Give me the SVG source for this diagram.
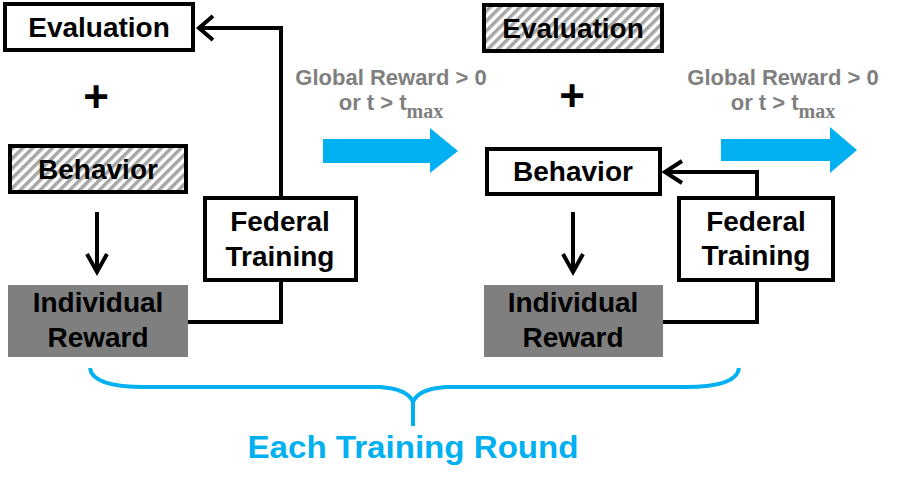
<svg xmlns="http://www.w3.org/2000/svg" width="903" height="488" viewBox="0 0 903 488">
<defs>
<pattern id="hatch" patternUnits="userSpaceOnUse" width="7" height="7" patternTransform="rotate(45)">
<rect width="7" height="7" fill="#ffffff"/>
<rect width="3.5" height="7" fill="#a6a6a6"/>
</pattern>
</defs>
<style>
.box{fill:#fff;stroke:#000;stroke-width:4}
.hbox{fill:url(#hatch);stroke:#000;stroke-width:4}
.gbox{fill:#7f7f7f}
.t{font-family:"Liberation Sans",Arial,sans-serif;font-weight:bold;font-size:28px;fill:#000;text-anchor:middle}
.plus{font-family:"Liberation Sans",Arial,sans-serif;font-weight:bold;font-size:44px;fill:#000;text-anchor:middle}
.g{font-family:"Liberation Sans",Arial,sans-serif;font-weight:bold;font-size:22px;fill:#7f7f7f;text-anchor:middle}
.sub{font-family:"Liberation Serif","Times New Roman",serif;font-weight:bold;font-size:20px}
.ln{fill:none;stroke:#000;stroke-width:4}
.blue{fill:#00b0f0}
.brace{fill:none;stroke:#00b0f0;stroke-width:4}
.bt{font-family:"Liberation Sans",Arial,sans-serif;font-weight:bold;font-size:32px;fill:#00b0f0;text-anchor:middle}
</style>
<g id="connectors">
<polyline class="ln" points="199,28 281,28 281,198"/>
<polyline class="ln" points="213,16 199,28 213,40"/>
<line class="ln" x1="97" y1="212" x2="97" y2="272"/>
<polyline class="ln" points="87,254 97,272 107,254"/>
<polyline class="ln" points="188,322 281,322 281,280"/>
<polyline class="ln" points="665,172 757,172 757,198"/>
<polyline class="ln" points="682,161 665,172 682,183"/>
<line class="ln" x1="573" y1="212" x2="573" y2="272"/>
<polyline class="ln" points="563,254 573,272 583,254"/>
<polyline class="ln" points="663,322 757,322 757,280"/>
<polygon class="blue" points="323,139 430,139 430,128 458,151 430,173 430,163 323,163"/>
<polygon class="blue" points="721,139 830,139 830,127 857,150 830,173 830,161 721,161"/>
<path class="brace" d="M90,368 Q92,387 145,387 L380,387 Q408,389 413,402 Q418,389 446,387 L685,387 Q737,387 739,368"/>
<line class="brace" x1="413" y1="400" x2="413" y2="426"/>
</g>
<g id="eval1"><rect class="box" x="5" y="4" width="188" height="46"/><text class="t" x="99" y="37">Evaluation</text></g>
<g id="plus1"><text class="plus" x="96" y="112">+</text></g>
<g id="behavior1"><rect class="hbox" x="10" y="146" width="176" height="46"/><text class="t" x="98" y="179">Behavior</text></g>
<g id="reward1"><rect class="gbox" x="8" y="285" width="180" height="72"/><text class="t" x="98" y="312">Individual</text><text class="t" x="98" y="347">Reward</text></g>
<g id="fed1"><rect class="box" x="205" y="198" width="151" height="82"/><text class="t" x="280" y="231">Federal</text><text class="t" x="280" y="266">Training</text></g>
<g id="cond1"><text class="g" x="391" y="85">Global Reward &gt; 0</text><text class="g" x="391" y="110">or t &gt; t<tspan class="sub" dy="8">max</tspan></text></g>
<g id="eval2"><rect class="hbox" x="484" y="5" width="178" height="46"/><text class="t" x="573" y="38">Evaluation</text></g>
<g id="plus2"><text class="plus" x="572" y="111">+</text></g>
<g id="behavior2"><rect class="box" x="487" y="149" width="173" height="45"/><text class="t" x="573" y="181">Behavior</text></g>
<g id="reward2"><rect class="gbox" x="484" y="285" width="179" height="72"/><text class="t" x="573" y="312">Individual</text><text class="t" x="573" y="347">Reward</text></g>
<g id="fed2"><rect class="box" x="679" y="198" width="154" height="82"/><text class="t" x="756" y="231">Federal</text><text class="t" x="756" y="265">Training</text></g>
<g id="cond2"><text class="g" x="783" y="85">Global Reward &gt; 0</text><text class="g" x="783" y="110">or t &gt; t<tspan class="sub" dy="8">max</tspan></text></g>
<g id="label"><text class="bt" x="413" y="458" textLength="331" lengthAdjust="spacingAndGlyphs">Each Training Round</text></g>
</svg>
